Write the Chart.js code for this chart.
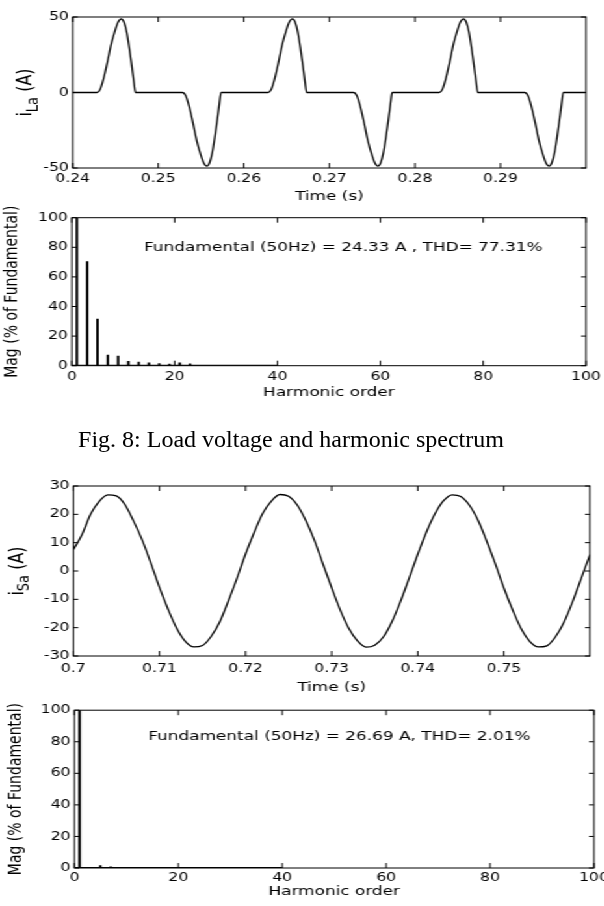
<!DOCTYPE html>
<html>
<head>
<meta charset="utf-8">
<title>Load and source current with harmonic spectra</title>
<script src="https://cdn.jsdelivr.net/npm/chart.js@4.4.0/dist/chart.umd.min.js"></script>
<style>
  html, body { margin: 0; padding: 0; background: #fff; overflow: hidden; }
  body { width: 604px; height: 906px; position: relative; }
  /* the original figure is a horizontally stretched raster, so the plots are stretched too */
  #stretch { position: absolute; left: 0; top: 0; width: 500px; height: 906px; transform: scaleX(1.3); transform-origin: 0 0; }
  .panel { position: absolute; left: 0; width: 500px; }
  #caption { position: absolute; left: 0; width: 582px; top: 427px; line-height: 24px; text-align: center;
             font-size: 24px; font-family: "Liberation Serif", "Times New Roman", serif; color: #000; }
</style>
</head>
<body>
<div id="stretch">
  <div class="panel" style="top:0px;height:207px"><canvas id="loadWave"></canvas></div>
  <div class="panel" style="top:207px;height:196px"><canvas id="loadSpectrum"></canvas></div>
  <div class="panel" style="top:460px;height:238px"><canvas id="sourceWave"></canvas></div>
  <div class="panel" style="top:700px;height:202px"><canvas id="sourceSpectrum"></canvas></div>
</div>
<div id="caption">Fig. 8: Load voltage and harmonic spectrum</div>

<script>
// ---- load current i_La (three cycles) ----
const loadTime = [
  0.2400, 0.24284, 0.2432, 0.2436, 0.24405, 0.2445, 0.24495, 0.2453, 0.24568, 0.2460, 0.24631, 0.2466, 0.2469, 0.24715, 0.24734,
  0.25284, 0.2532, 0.2536, 0.25405, 0.2545, 0.25495, 0.2553, 0.25568, 0.2560, 0.25631, 0.2566, 0.2569, 0.25715, 0.25734,
  0.26284, 0.2632, 0.2636, 0.26405, 0.2645, 0.26495, 0.2653, 0.26568, 0.2660, 0.26631, 0.2666, 0.2669, 0.26715, 0.26734,
  0.27284, 0.2732, 0.2736, 0.27405, 0.2745, 0.27495, 0.2753, 0.27568, 0.2760, 0.27631, 0.2766, 0.2769, 0.27715, 0.27734,
  0.28284, 0.2832, 0.2836, 0.28405, 0.2845, 0.28495, 0.2853, 0.28568, 0.2860, 0.28631, 0.2866, 0.2869, 0.28715, 0.28734,
  0.29284, 0.2932, 0.2936, 0.29405, 0.2945, 0.29495, 0.2953, 0.29568, 0.2960, 0.29631, 0.2966, 0.2969, 0.29715, 0.29734,
  0.2999
];
const loadCurrent = [
  0, 0, 2, 9, 20, 32, 41, 46.5, 48.7, 46.5, 40, 30, 18, 7, 0,
  0, -2, -9, -20, -32, -41, -46.5, -48.7, -46.5, -40, -30, -18, -7, 0,
  0, 2, 9, 20, 32, 41, 46.5, 48.7, 46.5, 40, 30, 18, 7, 0,
  0, -2, -9, -20, -32, -41, -46.5, -48.7, -46.5, -40, -30, -18, -7, 0,
  0, 2, 9, 20, 32, 41, 46.5, 48.7, 46.5, 40, 30, 18, 7, 0,
  0, -2, -9, -20, -32, -41, -46.5, -48.7, -46.5, -40, -30, -18, -7, 0,
  0
];
const loadTimeTicks = [0.24, 0.25, 0.26, 0.27, 0.28, 0.29];
const loadTimeLabels = ['0.24', '0.25', '0.26', '0.27', '0.28', '0.29'];
const loadCurrentTicks = [-50, 0, 50];

// ---- load current spectrum ----
const loadOrders = [1, 3, 5, 7, 9, 11, 13, 15, 17, 19, 21, 23];
const loadMag = [100, 70.3, 31.5, 7.2, 6.5, 3.0, 2.4, 1.9, 1.5, 1.1, 2.0, 1.2];

// ---- source current i_Sa ----
const sourceTime = [
  0.700, 0.701, 0.702, 0.703, 0.704, 0.705, 0.706, 0.707, 0.708, 0.709,
  0.710, 0.711, 0.712, 0.713, 0.714, 0.715, 0.716, 0.717, 0.718, 0.719,
  0.720, 0.721, 0.722, 0.723, 0.724, 0.725, 0.726, 0.727, 0.728, 0.729,
  0.730, 0.731, 0.732, 0.733, 0.734, 0.735, 0.736, 0.737, 0.738, 0.739,
  0.740, 0.741, 0.742, 0.743, 0.744, 0.745, 0.746, 0.747, 0.748, 0.749,
  0.750, 0.751, 0.752, 0.753, 0.754, 0.755, 0.756, 0.757, 0.758, 0.759,
  0.760
];
const sourceCurrent = [
  7.5, 12.8, 20.0, 24.6, 26.9, 26.5, 23.4, 17.6, 10.9, 2.8,
  -5.8, -13.5, -20.2, -24.8, -26.8, -26.3, -23.1, -18.0, -10.6, -2.6,
  6.0, 13.6, 20.4, 24.7, 27.0, 26.4, 23.3, 17.8, 10.8, 2.4,
  -5.9, -13.8, -20.3, -24.7, -26.9, -26.2, -23.3, -17.9, -10.7, -2.5,
  5.9, 13.7, 20.2, 24.8, 26.9, 26.3, 23.2, 17.9, 10.6, 2.6,
  -6.0, -13.6, -20.3, -24.8, -26.8, -26.4, -23.2, -18.0, -10.7, -2.5,
  5.8
];
const sourceTimeTicks = [0.70, 0.71, 0.72, 0.73, 0.74, 0.75];
const sourceTimeLabels = ['0.7', '0.71', '0.72', '0.73', '0.74', '0.75'];
const sourceCurrentTicks = [-30, -20, -10, 0, 10, 20, 30];

// ---- source current spectrum ----
const sourceOrders = [1, 3, 5, 7, 11, 13];
const sourceMag = [100, 0.4, 1.6, 0.7, 0.4, 0.3];

// shared spectrum axes; the FFT floor is drawn up to order 40
const orderTicks = [0, 20, 40, 60, 80, 100];
const orderLabels = ['0', '20', '40', '60', '80', '100'];
const magTicks = [0, 20, 40, 60, 80, 100];
const fftRange = [0, 40];

const FONT = '"DejaVu Sans", "Liberation Sans", Arial, sans-serif';
Chart.defaults.font.family = FONT;
Chart.defaults.color = '#000';
Chart.defaults.animation = false;

// box round the plot with matlab style inward ticks
const frameTicks = {
  id: 'frameTicks',
  afterDatasetsDraw(chart) {
    const {ctx, chartArea: a, scales} = chart;
    const len = 5;
    ctx.save();
    ctx.strokeStyle = '#000';
    ctx.lineWidth = 1;
    ctx.strokeRect(a.left, a.top, a.right - a.left, a.bottom - a.top);
    ctx.beginPath();
    scales.x.ticks.forEach(t => {
      const px = scales.x.getPixelForValue(t.value);
      ctx.moveTo(px, a.bottom); ctx.lineTo(px, a.bottom - len);
      ctx.moveTo(px, a.top); ctx.lineTo(px, a.top + len);
    });
    scales.y.ticks.forEach(t => {
      const py = scales.y.getPixelForValue(t.value);
      ctx.moveTo(a.left, py); ctx.lineTo(a.left + len / 1.3, py);
      ctx.moveTo(a.right, py); ctx.lineTo(a.right - len / 1.3, py);
    });
    ctx.stroke();
    ctx.restore();
  }
};

// rotated y title, parts may be subscripts
const yTitle = {
  id: 'yTitle',
  afterDraw(chart, args, opts) {
    if (!opts.parts) return;
    const {ctx, chartArea: a} = chart;
    const size = opts.size, subSize = opts.subSize;
    const fontOf = s => s + 'px ' + FONT;
    ctx.save();
    let total = 0;
    const widths = opts.parts.map(p => {
      ctx.font = fontOf(p.sub ? subSize : size);
      const w = ctx.measureText(p.text).width;
      total += w;
      return w;
    });
    ctx.translate(opts.x, (a.top + a.bottom) / 2);
    ctx.rotate(-Math.PI / 2);
    ctx.fillStyle = '#000';
    ctx.textBaseline = 'alphabetic';
    let pos = -total / 2;
    opts.parts.forEach((p, i) => {
      ctx.font = fontOf(p.sub ? subSize : size);
      ctx.fillText(p.text, pos, p.sub ? size * 0.35 + subSize * 0.35 : size * 0.35);
      pos += widths[i];
    });
    ctx.restore();
  }
};

// text placed in data coordinates
const noteText = {
  id: 'noteText',
  afterDraw(chart, args, opts) {
    if (!opts.text) return;
    const {ctx, scales} = chart;
    ctx.save();
    ctx.font = opts.size + 'px ' + FONT;
    ctx.fillStyle = '#000';
    ctx.textAlign = 'center';
    ctx.textBaseline = 'middle';
    ctx.fillText(opts.text, scales.x.getPixelForValue(opts.x), scales.y.getPixelForValue(opts.y));
    ctx.restore();
  }
};

Chart.register(frameTicks, yTitle, noteText);

function points(xs, ys) {
  return xs.map((x, i) => ({x: x, y: ys[i]}));
}

// builds a chart; box = plot area inside the (unstretched) canvas
function makeChart(id, type, datasets, box, x, y, plugins) {
  const canvasWidth = 500;
  return new Chart(document.getElementById(id), {
    type: type,
    data: {datasets: datasets},
    options: {
      responsive: true,
      maintainAspectRatio: false,
      layout: {padding: {left: 0, top: box.top, right: canvasWidth - box.right, bottom: 0}},
      plugins: Object.assign({legend: {display: false}, tooltip: {enabled: false}}, plugins),
      scales: {
        x: {
          type: 'linear',
          offset: false,
          min: x.min,
          max: x.max,
          grid: {display: false, drawTicks: false},
          border: {display: false},
          afterBuildTicks: axis => { axis.ticks = x.ticks.map(v => ({value: v})); },
          afterFit: axis => { axis.height = box.xHeight; },
          ticks: {
            font: {size: 12},
            padding: x.pad,
            maxRotation: 0,
            autoSkip: false,
            callback: (v, i) => x.labels[i]
          },
          title: {display: true, text: x.title, font: {size: 13}, padding: {top: 0, bottom: 2.2}}
        },
        y: {
          type: 'linear',
          min: y.min,
          max: y.max,
          grid: {display: false, drawTicks: false},
          border: {display: false},
          afterBuildTicks: axis => { axis.ticks = y.ticks.map(v => ({value: v})); },
          afterFit: axis => { axis.width = box.left; },
          ticks: {font: {size: 12}, padding: 3, autoSkip: false, callback: v => String(v)}
        }
      }
    }
  });
}

// top: load current waveform
makeChart('loadWave', 'line',
  [{
    data: points(loadTime, loadCurrent),
    borderColor: '#000',
    borderWidth: 1.3,
    pointRadius: 0,
    cubicInterpolationMode: 'monotone'
  }],
  {left: 55.9, right: 450.8, top: 17, xHeight: 39},
  {min: 0.24, max: 0.30, ticks: loadTimeTicks, labels: loadTimeLabels, pad: 4, title: 'Time (s)'},
  {min: -50, max: 50, ticks: loadCurrentTicks},
  {yTitle: {x: 18.5, size: 16, subSize: 13, parts: [{text: 'i'}, {text: 'La', sub: true}, {text: ' (A)'}]}}
);

// load current spectrum
makeChart('loadSpectrum', 'bar',
  [{
    type: 'bar',
    data: points(loadOrders, loadMag),
    backgroundColor: '#000',
    barThickness: 1.3
  }, {
    type: 'line',
    data: points(fftRange, [0, 0]),
    borderColor: '#000',
    borderWidth: 2,
    pointRadius: 0
  }],
  {left: 55.2, right: 450.8, top: 10.7, xHeight: 37.3},
  {min: 0, max: 100, ticks: orderTicks, labels: orderLabels, pad: 4, title: 'Harmonic order'},
  {min: 0, max: 100, ticks: magTicks},
  {
    yTitle: {x: 8.5, size: 14, subSize: 11, parts: [{text: 'Mag (% of Fundamental)'}]},
    noteText: {text: 'Fundamental (50Hz) = 24.33 A , THD= 77.31%', x: 52.8, y: 80, size: 13}
  }
);

// source current waveform
makeChart('sourceWave', 'line',
  [{
    data: points(sourceTime, sourceCurrent),
    borderColor: '#000',
    borderWidth: 1.3,
    pointRadius: 0,
    cubicInterpolationMode: 'monotone'
  }],
  {left: 56.4, right: 453.8, top: 26, xHeight: 42},
  {min: 0.70, max: 0.76, ticks: sourceTimeTicks, labels: sourceTimeLabels, pad: 6, title: 'Time (s)'},
  {min: -30, max: 30, ticks: sourceCurrentTicks},
  {yTitle: {x: 12.3, size: 16, subSize: 13, parts: [{text: 'i'}, {text: 'Sa', sub: true}, {text: ' (A)'}]}}
);

// source current spectrum
makeChart('sourceSpectrum', 'bar',
  [{
    type: 'bar',
    data: points(sourceOrders, sourceMag),
    backgroundColor: '#000',
    barThickness: 1.3
  }, {
    type: 'line',
    data: points(fftRange, [0, 0]),
    borderColor: '#000',
    borderWidth: 2,
    pointRadius: 0
  }],
  {left: 57.2, right: 456.9, top: 10, xHeight: 34},
  {min: 0, max: 100, ticks: orderTicks, labels: orderLabels, pad: 3, title: 'Harmonic order'},
  {min: 0, max: 100, ticks: magTicks},
  {
    yTitle: {x: 11.5, size: 14, subSize: 11, parts: [{text: 'Mag (% of Fundamental)'}]},
    noteText: {text: 'Fundamental (50Hz) = 26.69 A, THD= 2.01%', x: 51, y: 83.5, size: 13}
  }
);
</script>
</body>
</html>
